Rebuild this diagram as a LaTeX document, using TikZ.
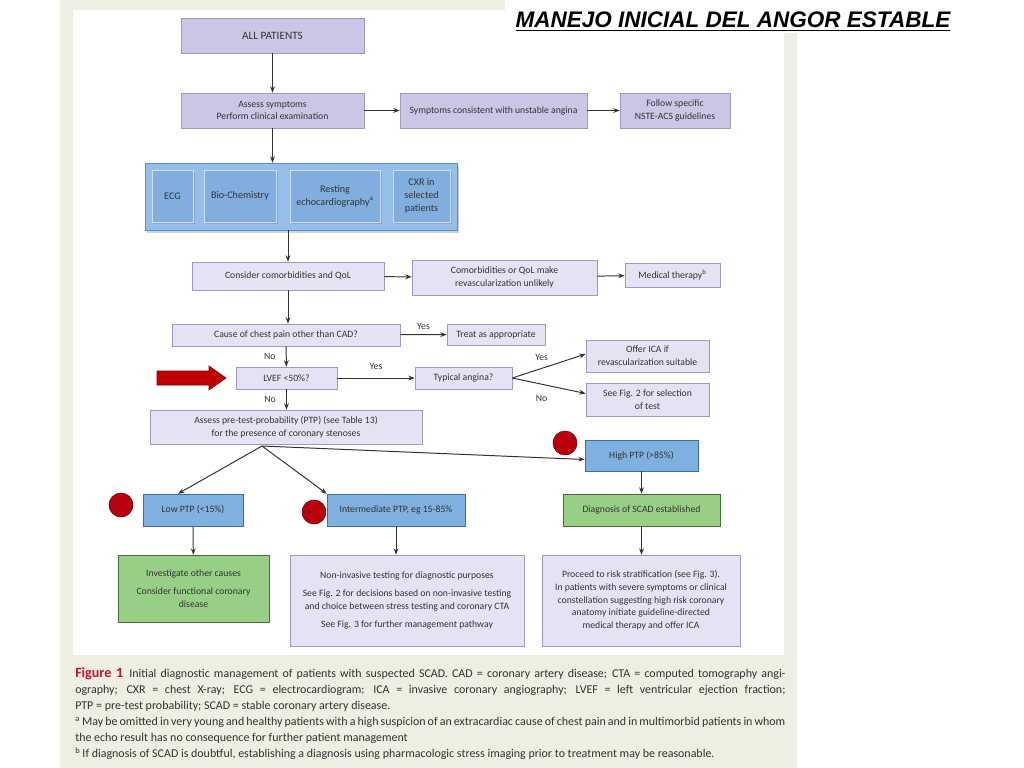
\documentclass[tikz,border=0pt]{standalone}
\usepackage{fontspec}
\setmainfont{Carlito}
\newfontfamily\titlefont{Liberation Sans}
\usetikzlibrary{arrows.meta,shadows}

\definecolor{lav}{HTML}{C9C7E5}
\definecolor{lavlight}{HTML}{E4E3F3}
\definecolor{lavline}{HTML}{9D9AC9}
\definecolor{bluefill}{HTML}{7FB0E0}
\definecolor{blueline}{HTML}{3A6EA5}
\definecolor{groupfill}{HTML}{95BFE9}
\definecolor{groupline}{HTML}{4E92D2}
\definecolor{itemfill}{HTML}{82AEDF}
\definecolor{grnfill}{HTML}{98CF86}
\definecolor{grnline}{HTML}{4B6B3A}
\definecolor{beige}{HTML}{EFEEE3}
\definecolor{dotred}{HTML}{B8000E}
\definecolor{arrowred}{HTML}{C00000}
\definecolor{figred}{HTML}{C8102E}
\definecolor{txt}{HTML}{333333}

\begin{document}
\begin{tikzpicture}[
  x=0.025cm, y=-0.025cm,
  box/.style={draw=lavline,fill=lavlight,align=center,inner sep=1pt,text=txt,
              font=\fontsize{6.9}{9}\selectfont},
  darkbox/.style={box,fill=lav},
  bluebox/.style={box,draw=blueline,fill=bluefill},
  greenbox/.style={box,draw=grnline,fill=grnfill},
  item/.style={box,draw=white!70!groupline,fill=itemfill,minimum height=1.3cm,
               font=\fontsize{7.2}{9.4}\selectfont,
               drop shadow={shadow xshift=0.05cm,shadow yshift=-0.06cm,fill=black!45}},
  arr/.style={-{Stealth[length=1.6mm,width=1.2mm]},line width=0.7pt,draw=txt},
  lbl/.style={font=\fontsize{6.9}{8}\selectfont,text=txt},
  dot/.style={circle,draw=black!60!red,fill=dotred,minimum size=0.6cm,inner sep=0pt}
]
  \useasboundingbox (0,0) rectangle (1024,768);
  % Page
  \fill[beige] (60,0) rectangle (797,768);
  \fill[white] (73,10) rectangle (784,655);
  \fill[white] (505,0) rectangle (965,33);
  \node[font=\titlefont\bfseries\itshape\fontsize{16}{18}\selectfont,anchor=base,inner sep=0pt]
    (title) at (733,28) {\underline{MANEJO INICIAL DEL ANGOR ESTABLE}};

  % Top row
  \node[darkbox,minimum width=4.575cm,minimum height=0.875cm,font=\fontsize{8}{9}\selectfont]
    (all) at (272.5,35.5) {ALL PATIENTS};
  \node[darkbox,minimum width=4.575cm,minimum height=0.875cm]
    (assess) at (272.5,110.5) {Assess symptoms\\Perform clinical examination};
  \node[darkbox,minimum width=4.675cm,minimum height=0.875cm]
    (unstable) at (493.5,110.5) {Symptoms consistent with unstable angina};
  \node[darkbox,minimum width=2.75cm,minimum height=0.875cm]
    (nste) at (675,110.5) {Follow specific\\NSTE-ACS guidelines};

  % Tests
  \node[draw=groupline,fill=groupfill,minimum width=7.8cm,minimum height=1.675cm,
        drop shadow={shadow xshift=0.06cm,shadow yshift=-0.08cm,fill=black!35}]
    (tests) at (301,196.5) {};
  \node[item,minimum width=1.025cm] (ecg) at (172.5,196) {ECG};
  \node[item,minimum width=1.8cm] (bio) at (240,196) {Bio-Chemistry};
  \node[item,minimum width=2.25cm] (echo) at (335,196) {Resting\\echocardiography\textsuperscript{a}};
  \node[item,minimum width=1.425cm] (cxr) at (421.5,196) {CXR in\\selected\\patients};

  % Comorbidities
  \node[box,minimum width=4.8cm,minimum height=0.7cm]
    (como) at (288,276) {Consider comorbidities and QoL};
  \node[box,minimum width=4.625cm,minimum height=0.875cm]
    (unlikely) at (504.5,277.5) {Comorbidities or QoL make\\revascularization unlikely};
  \node[box,minimum width=2.375cm,minimum height=0.6cm]
    (medical) at (672.5,275) {Medical therapy\textsuperscript{b}};

  % Questions
  \node[box,minimum width=5.7cm,minimum height=0.55cm]
    (cause) at (286,335) {Cause of chest pain other than CAD?};
  \node[box,minimum width=2.45cm,minimum height=0.525cm]
    (treat) at (496,334.5) {Treat as appropriate};
  \node[box,minimum width=2.525cm,minimum height=0.55cm]
    (lvef) at (286.5,378) {LVEF <50\%?};
  \node[box,minimum width=2.425cm,minimum height=0.55cm]
    (typical) at (463.5,378) {Typical angina?};
  \node[box,minimum width=3.075cm,minimum height=0.8cm]
    (offer) at (647.5,356) {Offer ICA if\\revascularization suitable};
  \node[box,minimum width=3.075cm,minimum height=0.825cm]
    (select) at (647.5,399.5) {See Fig. 2 for selection\\of test};
  \node[box,minimum width=6.8cm,minimum height=0.85cm]
    (ptp) at (286,427) {Assess pre-test-probability (PTP) (see Table 13)\\for the presence of coronary stenoses};

  % PTP classes
  \node[bluebox,minimum width=2.825cm,minimum height=0.775cm] (high) at (641.5,455.5) {High PTP (>85\%)};
  \node[bluebox,minimum width=2.5cm,minimum height=0.8cm] (low) at (193,510) {Low PTP (<15\%)};
  \node[bluebox,minimum width=3.45cm,minimum height=0.8cm] (inter) at (396,510) {Intermediate PTP, eg 15-85\%};
  \node[greenbox,minimum width=3.925cm,minimum height=0.8cm] (diag) at (641.5,510) {Diagnosis of SCAD established};
  \node[dot] (dothigh) at (565,443) {};
  \node[dot] (dotlow) at (121,505) {};
  \node[dot] (dotinter) at (314,512) {};

  % Outcomes
  \node[greenbox,minimum width=3.775cm,minimum height=1.675cm] (other) at (193.5,588.5)
    {Investigate other causes\\[4pt]Consider functional coronary\\disease};
  \node[box,minimum width=5.85cm,minimum height=2.275cm] (noninv) at (407,600.5)
    {Non-invasive testing for diagnostic purposes\\[4pt]See Fig. 2 for decisions based on non-invasive testing\\
     and choice between stress testing and coronary CTA\\[4pt]See Fig. 3 for further management pathway};
  \node[box,minimum width=4.95cm,minimum height=2.275cm] (risk) at (641,600.5)
    {Proceed to risk stratification (see Fig. 3).\\In patients with severe symptoms or clinical\\
     constellation suggesting high risk coronary\\anatomy initiate guideline-directed\\medical therapy and offer ICA};

  % Red pointer
  \filldraw[fill=arrowred,draw=black!50!red] (157,371) -- (209,371) -- (209,366) -- (226,378)
    -- (209,390) -- (209,385) -- (157,385) -- cycle;

  % Arrows
  \draw[arr] (all) -- (assess);
  \draw[arr] (assess) -- (unstable);
  \draw[arr] (unstable) -- (nste);
  \draw[arr] (assess) -- (assess |- tests.north);
  \draw[arr] (como |- tests.south) -- (como);
  \draw[arr] (como) -- (unlikely);
  \draw[arr] (unlikely) -- (medical);
  \draw[arr] (como) -- (como |- cause.north);
  \draw[arr] (cause) -- node[above,lbl] {Yes} (treat);
  \draw[arr] (cause) -- node[left,lbl,xshift=-4pt] {No} (lvef);
  \draw[arr] (lvef) -- node[above,lbl,yshift=2pt] {Yes} (typical);
  \draw[arr] (typical.east) -- node[pos=0.4,above,lbl,yshift=2pt] {Yes} ([yshift=0.05cm]offer.west);
  \draw[arr] (typical.east) -- node[pos=0.4,below,lbl,yshift=-4pt] {No} ([yshift=0.15cm]select.west);
  \draw[arr] (lvef) -- node[left,lbl,xshift=-4pt] {No} (lvef |- ptp.north);
  \coordinate (fan) at (262,446);
  \draw[arr] (fan) -- ([xshift=-0.375cm]low.north);
  \draw[arr] (fan) -- (inter.north west);
  \draw[arr] (fan) -- ([yshift=-0.1cm]high.west);
  \draw[arr] (high) -- (diag);
  \draw[arr] (low) -- (other);
  \draw[arr] (inter) -- (inter |- noninv.north);
  \draw[arr] (diag) -- (diag |- risk.north);

  % Caption
  \node[anchor=north west,text width=17.75cm,align=justify,inner sep=0pt,text=txt,
        font=\fontsize{8.5}{11.4}\selectfont] (caption) at (75,667)
    {\textcolor{figred}{\bfseries\fontsize{10}{11.4}\selectfont Figure 1}\enspace Initial diagnostic management of patients with suspected SCAD. CAD = coronary artery disease; CTA = computed tomography angi-\linebreak
     ography; CXR = chest X-ray; ECG = electrocardiogram; ICA = invasive coronary angiography; LVEF = left ventricular ejection fraction;\linebreak
     PTP = pre-test probability; SCAD = stable coronary artery disease.\\
     {\spaceskip=0.1em plus 0.1em minus 0.02em
     \textsuperscript{a}\kern1.5pt May be omitted in very young and healthy patients with a high suspicion of an extracardiac cause of chest pain and in multimorbid patients in whom}\linebreak
     the echo result has no consequence for further patient management\\
     \textsuperscript{b}\kern1.5pt If diagnosis of SCAD is doubtful, establishing a diagnosis using pharmacologic stress imaging prior to treatment may be reasonable.};
\end{tikzpicture}
\end{document}
